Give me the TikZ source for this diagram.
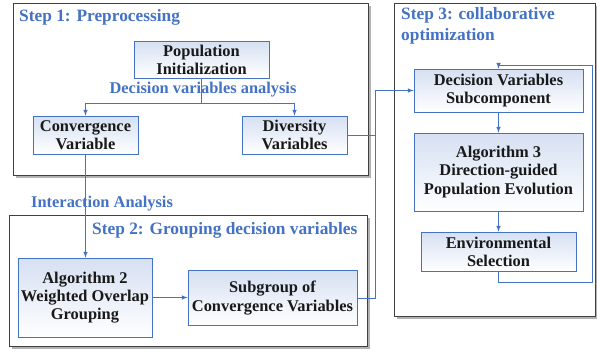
\documentclass[tikz,border=0pt]{standalone}
\usepackage{fontspec}
\setmainfont{Liberation Serif}
\usetikzlibrary{shadows}
\definecolor{lineblue}{RGB}{68,114,196}
\begin{document}
\begin{tikzpicture}[
    x=0.03cm, y=-0.03cm,
    stepframe/.style={draw=black!75, fill=white, line width=0.8pt,
        drop shadow={shadow xshift=2.2pt, shadow yshift=-2.2pt, fill=black!60}},
    box/.style={draw=lineblue, line width=0.6pt, top color=lineblue!22, bottom color=white,
        align=center, text=black!90, inner sep=1pt,
        font=\bfseries\fontsize{14}{15.5}\selectfont},
    steplabel/.style={text=lineblue, anchor=west, inner sep=0pt, align=left,
        font=\bfseries\fontsize{14}{15.5}\selectfont},
    steptitle/.style={steplabel, font=\bfseries\fontsize{14.8}{18}\selectfont},
    flow/.style={draw=lineblue, line width=0.7pt},
    >=latex
]
\useasboundingbox (0,0) rectangle (597,351);

% Rahmen
\draw[stepframe] (13,3) rectangle (368,175);
\draw[stepframe] (9,215) rectangle (367,346);
\draw[stepframe] (394,3) rectangle (595.5,316);

\node[steptitle] (s1) at (19,17) {Step 1: Preprocessing};
\node[steptitle] (s2) at (92,230) {Step 2: Grouping decision variables};
\node[steptitle] (s3) at (401,26) {Step 3: collaborative\\optimization};

% Step 1
\node[box, minimum width=4.05cm, minimum height=1.11cm] (pop) at (201.5,59.5) {Population\\Initialization};
\node[box, minimum width=3.15cm, minimum height=1.14cm] (conv) at (85.5,135) {Convergence\\Variable};
\node[box, minimum width=3.15cm, minimum height=1.14cm] (div) at (294.5,135) {Diversity\\Variables};
\coordinate (split) at (201.5,103);
\draw[flow] (pop) -- (split);
\draw[flow,->] (split) -| (conv);
\draw[flow,->] (split) -| (div);
\node[steplabel, anchor=center] (dva) at (203,90) {Decision variables analysis};

% Step 2
\node[box, minimum width=4.02cm, minimum height=2.37cm] (alg2) at (85,297.5) {Algorithm 2\\Weighted Overlap\\Grouping};
\node[box, minimum width=5.07cm, minimum height=1.65cm] (sub) at (272.5,298) {Subgroup of\\Convergence Variables};
\node[steplabel] (ia) at (31,204) {Interaction Analysis};
\draw[flow,->] (conv.south) -- (conv.south |- alg2.north);
\draw[flow,->] (alg2.east) -- (alg2.east -| sub.west);

% Step 3
\node[box, minimum width=5.07cm, minimum height=1.29cm] (dvs) at (498.5,90.5) {Decision Variables\\Subcomponent};
\node[box, minimum width=5.07cm, minimum height=2.34cm] (alg3) at (498.5,172) {Algorithm 3\\Direction-guided\\Population Evolution};
\node[box, minimum width=4.65cm, minimum height=1.17cm] (env) at (498.5,251.5) {Environmental\\Selection};
\draw[flow,->] (dvs) -- (alg3);
\draw[flow,->] (alg3) -- (env);
\coordinate (loopbr) at (592,282);
\coordinate (looptr) at (592,65);
\draw[flow,->] (env.south) |- (loopbr) -- (looptr) -| (dvs.north);

% Verbindung
\coordinate (riser) at (375,90.5);
\draw[flow] (sub.east) -| (riser);
\draw[flow] (div.east) -- (div.east -| riser);
\draw[flow,->] (riser) -- (dvs.west);
\end{tikzpicture}
\end{document}
